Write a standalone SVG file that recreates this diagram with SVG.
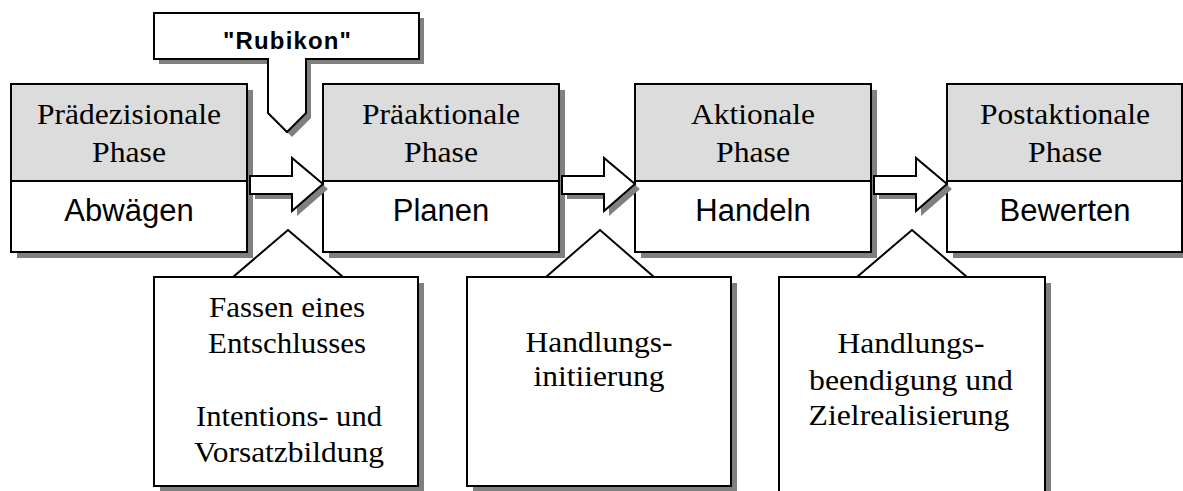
<svg xmlns="http://www.w3.org/2000/svg" width="1183" height="491" viewBox="0 0 1183 491">
<style>
.sh{fill:#808080;stroke:none}
.hd{fill:#dcdcdc;stroke:none}
.wh{fill:#ffffff;stroke:none}
.ol{fill:none;stroke:#000;stroke-width:2}
.wo{fill:#ffffff;stroke:#000;stroke-width:2;stroke-linejoin:miter}
.tm{font-family:"Liberation Serif","Times New Roman",serif;font-size:29px;fill:#000;text-anchor:middle}
.ar{font-family:"Liberation Sans",Arial,sans-serif;font-size:31px;fill:#000;text-anchor:middle}
.rb{font-family:"Liberation Sans",Arial,sans-serif;font-size:24px;font-weight:bold;fill:#000;text-anchor:middle}
</style>
<rect x="0" y="0" width="1183" height="491" fill="#ffffff"/>

<g id="phase1">
<rect class="sh" x="17" y="90" width="236" height="168"/>
<rect class="hd" x="11" y="84" width="236" height="97"/>
<rect class="wh" x="11" y="181" width="236" height="71"/>
<rect class="ol" x="11" y="84" width="236" height="168"/>
<line class="ol" x1="11" y1="181" x2="247" y2="181"/>
<text class="tm" x="129" y="124" textLength="184" lengthAdjust="spacingAndGlyphs">Prädezisionale</text>
<text class="tm" x="129" y="162" textLength="74" lengthAdjust="spacingAndGlyphs">Phase</text>
<text class="ar" x="129" y="221">Abwägen</text>
</g>

<g id="phase2">
<rect class="sh" x="329" y="90" width="236" height="168"/>
<rect class="hd" x="323" y="84" width="236" height="97"/>
<rect class="wh" x="323" y="181" width="236" height="71"/>
<rect class="ol" x="323" y="84" width="236" height="168"/>
<line class="ol" x1="323" y1="181" x2="559" y2="181"/>
<text class="tm" x="441" y="124" textLength="158" lengthAdjust="spacingAndGlyphs">Präaktionale</text>
<text class="tm" x="441" y="162" textLength="74" lengthAdjust="spacingAndGlyphs">Phase</text>
<text class="ar" x="441" y="221">Planen</text>
</g>

<g id="phase3">
<rect class="sh" x="641" y="90" width="236" height="168"/>
<rect class="hd" x="635" y="84" width="236" height="97"/>
<rect class="wh" x="635" y="181" width="236" height="71"/>
<rect class="ol" x="635" y="84" width="236" height="168"/>
<line class="ol" x1="635" y1="181" x2="871" y2="181"/>
<text class="tm" x="753" y="124" textLength="124" lengthAdjust="spacingAndGlyphs">Aktionale</text>
<text class="tm" x="753" y="162" textLength="74" lengthAdjust="spacingAndGlyphs">Phase</text>
<text class="ar" x="753" y="221">Handeln</text>
</g>

<g id="phase4">
<rect class="sh" x="953" y="90" width="236" height="168"/>
<rect class="hd" x="947" y="84" width="235" height="97"/>
<rect class="wh" x="947" y="181" width="235" height="71"/>
<rect class="ol" x="947" y="84" width="235" height="168"/>
<line class="ol" x1="947" y1="181" x2="1182" y2="181"/>
<text class="tm" x="1065" y="124" textLength="170" lengthAdjust="spacingAndGlyphs">Postaktionale</text>
<text class="tm" x="1065" y="162" textLength="74" lengthAdjust="spacingAndGlyphs">Phase</text>
<text class="ar" x="1065" y="221">Bewerten</text>
</g>

<g id="rubikon">
<polygon class="sh" transform="translate(5 5)" points="154,13 419,13 419,59 306,59 306,113 287,132 268,113 268,59 154,59"/>
<polygon class="wo" points="154,13 419,13 419,59 306,59 306,113 287,132 268,113 268,59 154,59"/>
<text class="rb" x="287" y="49" textLength="128" lengthAdjust="spacing">"Rubikon"</text>
</g>

<g id="connectors">
<polygon class="sh" transform="translate(5 5)" points="250,176 292,176 292,158 323,184 292,211 292,194 250,194"/>
<polygon class="wo" points="250,176 292,176 292,158 323,184 292,211 292,194 250,194"/>
<polygon class="sh" transform="translate(5 5)" points="562,176 604,176 604,158 635,184 604,211 604,194 562,194"/>
<polygon class="wo" points="562,176 604,176 604,158 635,184 604,211 604,194 562,194"/>
<polygon class="sh" transform="translate(5 5)" points="874,176 916,176 916,158 947,184 916,211 916,194 874,194"/>
<polygon class="wo" points="874,176 916,176 916,158 947,184 916,211 916,194 874,194"/>
</g>

<g id="callout1">
<rect class="sh" x="160" y="283" width="264" height="209"/>
<rect class="wo" x="154" y="277" width="264" height="209"/>
<polygon class="wo" points="233,277 288,230 343,277"/>
<text class="tm" x="287" y="317" textLength="156" lengthAdjust="spacingAndGlyphs">Fassen eines</text>
<text class="tm" x="287" y="353" textLength="158" lengthAdjust="spacingAndGlyphs">Entschlusses</text>
<text class="tm" x="289" y="426" textLength="186" lengthAdjust="spacingAndGlyphs">Intentions- und</text>
<text class="tm" x="289" y="462" textLength="190" lengthAdjust="spacingAndGlyphs">Vorsatzbildung</text>
</g>

<g id="callout2">
<rect class="sh" x="473" y="283" width="264" height="209"/>
<rect class="wo" x="467" y="277" width="264" height="209"/>
<polygon class="wo" points="546,277 600,230 654,277"/>
<text class="tm" x="599" y="352" textLength="147" lengthAdjust="spacingAndGlyphs">Handlungs-</text>
<text class="tm" x="599" y="386" textLength="131" lengthAdjust="spacingAndGlyphs">initiierung</text>
</g>

<g id="callout3">
<rect class="sh" x="785" y="283" width="266" height="230"/>
<rect class="wo" x="779" y="277" width="266" height="230"/>
<polygon class="wo" points="857,277 912,230 967,277"/>
<text class="tm" x="911" y="353" textLength="147" lengthAdjust="spacingAndGlyphs">Handlungs-</text>
<text class="tm" x="911" y="390" textLength="204" lengthAdjust="spacingAndGlyphs">beendigung und</text>
<text class="tm" x="909" y="425" textLength="201" lengthAdjust="spacingAndGlyphs">Zielrealisierung</text>
</g>
</svg>
